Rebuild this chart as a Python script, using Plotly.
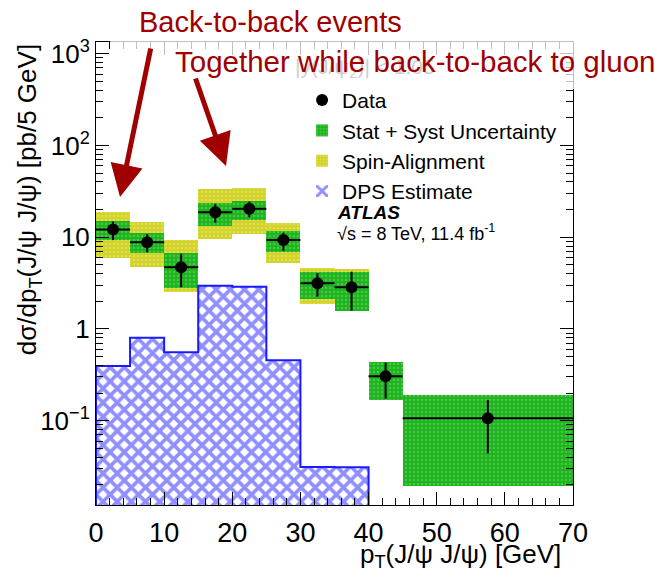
import plotly.graph_objects as go

# ---- data ----
bin_lo = [0, 5, 10, 15, 20, 25, 30, 35, 40, 45]
bin_hi = [5, 10, 15, 20, 25, 30, 35, 40, 45, 70]
data_y = [12.1, 8.8, 4.7, 18.7, 20.4, 9.3, 3.15, 2.85, 0.305, 0.106]
stat_hi = [14.8, 10.8, 6.6, 23.1, 24.4, 11.2, 4.05, 4.2, 0.43, 0.168]
stat_lo = [9.3, 6.85, 2.85, 14.4, 16.5, 7.1, 2.25, 1.58, 0.174, 0.044]
syst_hi = [15.1, 11.2, 6.7, 23.8, 25.0, 11.7, 4.2, 4.2, 0.44, 0.19]
syst_lo = [9.2, 6.8, 2.8, 13.3, 15.4, 6.9, 2.1, 1.55, 0.17, 0.0195]
spin_hi = [19.0, 14.8, 9.3, 33.4, 34.7, 14.2, 4.6, 4.45]
spin_lo = [5.9, 4.7, 2.5, 9.5, 10.8, 5.2, 1.88, 1.6]
dps_y = [0.395, 0.80, 0.557, 2.96, 2.89, 0.456, 0.0313, 0.031, 0.0, 0.0]
y_floor = 10 ** -2.5

x_c = [(a + b) / 2 for a, b in zip(bin_lo, bin_hi)]
x_w = [b - a for a, b in zip(bin_lo, bin_hi)]
x_half = [w / 2 for w in x_w]

RED = "#a00000"
BLUE = "#1a1aff"
FONT = "Liberation Sans, Arial, sans-serif"

fig = go.Figure()

# DPS estimate (blue hatched)
fig.add_trace(go.Bar(
    x=x_c, y=[max(v - y_floor, 0) for v in dps_y], base=[y_floor] * len(dps_y), width=x_w,
    marker=dict(color="white", line=dict(color=BLUE, width=0),
                pattern=dict(shape="x", fgcolor="#1f1fff", bgcolor="white", size=10, solidity=0.6)),
    name="DPS Estimate", legendrank=4,
))
# DPS outline (histogram step)
dps_plot = [v if v > 0 else y_floor for v in dps_y]
fig.add_trace(go.Scatter(
    x=[bin_lo[0]] + bin_lo + [bin_hi[-1]], y=[y_floor] + dps_plot + [dps_plot[-1]],
    mode="lines", line=dict(color=BLUE, width=2, shape="hv"),
    showlegend=False, hoverinfo="skip",
))
# spin alignment (yellow)
n_sp = len(spin_hi)
fig.add_trace(go.Bar(
    x=x_c[:n_sp], y=[h - l for h, l in zip(spin_hi, spin_lo)], base=spin_lo, width=x_w[:n_sp],
    marker=dict(color="#d4d42a", line=dict(width=0),
                pattern=dict(shape=".", fgcolor="#eeee80", bgcolor="#d2d228", size=4, solidity=0.3)),
    name="Spin-Alignment", legendrank=3,
))
# stat + syst (green)
fig.add_trace(go.Bar(
    x=x_c, y=[h - l for h, l in zip(syst_hi, syst_lo)], base=syst_lo, width=x_w,
    marker=dict(color="#1fb51f", line=dict(width=0),
                pattern=dict(shape=".", fgcolor="#70d870", bgcolor="#1db41d", size=4, solidity=0.3)),
    name="Stat + Syst Uncertainty", legendrank=2,
))
# data points
fig.add_trace(go.Scatter(
    x=x_c, y=data_y, mode="markers",
    marker=dict(color="black", size=12),
    error_x=dict(type="data", array=x_half, color="black", thickness=2, width=0),
    error_y=dict(type="data", symmetric=False,
                 array=[h - v for h, v in zip(stat_hi, data_y)],
                 arrayminus=[v - l for v, l in zip(data_y, stat_lo)],
                 color="black", thickness=2, width=0),
    name="Data", legendrank=1,
))

y_major = [0.1, 1, 10, 100, 1000]
y_major_txt = ["10<sup>\u22121</sup>", "1", "10", "10<sup>2</sup>", "10<sup>3</sup>"]
y_minor = [m * 10 ** e for e in range(-2, 3) for m in range(2, 10)]

fig.update_layout(
    width=658, height=583,
    margin=dict(l=96, r=85, t=42, b=78),
    plot_bgcolor="white", paper_bgcolor="white",
    barmode="overlay", bargap=0,
    font=dict(family=FONT, color="black", size=20),
    showlegend=True,
    legend=dict(x=0.432, y=0.918, xanchor="left", yanchor="top",
                bgcolor="rgba(0,0,0,0)", font=dict(size=21), tracegroupgap=2),
    xaxis=dict(range=[0, 70], showgrid=False, zeroline=False,
               showline=True, linecolor="black", linewidth=1, mirror="ticks",
               ticks="inside", ticklen=13, tickcolor="black", dtick=10,
               tickfont=dict(size=27), ticklabelstandoff=4,
               minor=dict(ticks="inside", ticklen=7, dtick=2, tickcolor="black")),
    yaxis=dict(type="log", range=[-1.919, 3.127], showgrid=False, zeroline=False,
               showline=True, linecolor="black", linewidth=1, mirror="ticks",
               ticks="inside", ticklen=13, tickcolor="black",
               tickvals=y_major, ticktext=y_major_txt,
               tickfont=dict(size=26),
               minor=dict(ticks="inside", ticklen=7, tickvals=y_minor, tickcolor="black")),
)

# semi-transparent white band over top of frame
fig.add_shape(type="rect", xref="paper", yref="paper",
              x0=0.03, x1=1.2, y0=(505 - 89) / 463, y1=1.1,
              fillcolor="rgba(255,255,255,0.75)", line=dict(width=0), layer="above")

ann = []
# axis titles
ann.append(dict(text="d\u03c3/dp<sub>T</sub>(J/\u03c8 J/\u03c8) [pb/5 GeV]", textangle=-90,
                xref="paper", yref="paper", x=-0.141, y=1.0, xanchor="center", yanchor="top",
                showarrow=False, font=dict(size=26)))
ann.append(dict(text="p<sub>T</sub>(J/\u03c8 J/\u03c8) [GeV]",
                xref="paper", yref="paper", x=0.979, y=-0.108, xanchor="right", yanchor="middle",
                showarrow=False, font=dict(size=26)))
# faded selection label
ann.append(dict(text="|y(J/\u03c8<sub>2</sub>)| < 1.05",
                xref="paper", yref="paper", x=0.413, y=0.944, xanchor="left", yanchor="middle",
                showarrow=False, font=dict(size=21, color="#cfcfcf")))
# ATLAS labels
ann.append(dict(text="<b><i>ATLAS</i></b>",
                xref="paper", yref="paper", x=0.5, y=0.631, xanchor="left", yanchor="middle",
                showarrow=False, font=dict(size=19)))
ann.append(dict(text="\u221as = 8 TeV, 11.4 fb<sup>-1</sup>",
                xref="paper", yref="paper", x=0.5, y=0.588, xanchor="left", yanchor="middle",
                showarrow=False, font=dict(size=18)))
# red texts
ann.append(dict(text="Back-to-back events",
                xref="paper", yref="paper", x=0.365, y=1.043, xanchor="center", yanchor="middle",
                showarrow=False, font=dict(size=29, color=RED)))
ann.append(dict(text="Together while back-to-back to gluon",
                xref="paper", yref="paper", x=0.669, y=0.957, xanchor="center", yanchor="middle",
                showarrow=False, font=dict(size=29.5, color=RED)))
# arrows
ann.append(dict(text="", xref="paper", yref="paper", x=(120 - 96) / 477, y=(505 - 197) / 463,
                ax=31, ay=-150, showarrow=True, arrowhead=2, arrowsize=1.3, arrowwidth=5,
                arrowcolor=RED))
ann.append(dict(text="", xref="paper", yref="paper", x=(226 - 96) / 477, y=(505 - 166) / 463,
                ax=-31, ay=-89, showarrow=True, arrowhead=2, arrowsize=1.3, arrowwidth=5,
                arrowcolor=RED))
fig.update_layout(annotations=ann)

fig.write_html("out.html")
